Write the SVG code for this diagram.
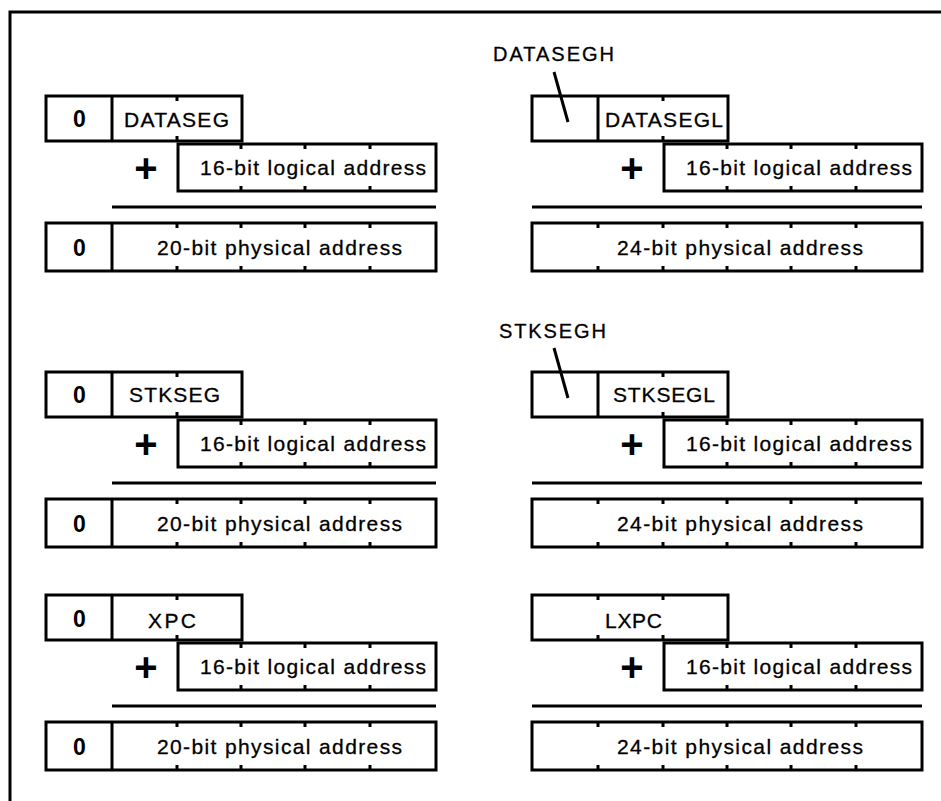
<svg xmlns="http://www.w3.org/2000/svg" width="941" height="801" viewBox="0 0 941 801">
<style>
.bx{fill:none;stroke:#000;stroke-width:3;stroke-linejoin:miter}
.ln{stroke:#000;stroke-width:3;fill:none}
.t{font-family:"Liberation Sans",Arial,sans-serif;font-size:21px;fill:#000;stroke:#000;stroke-width:0.3}
.lb{font-family:"Liberation Sans",Arial,sans-serif;font-size:20px;fill:#000;stroke:#000;stroke-width:0.3}
.z{font-family:"Liberation Sans",Arial,sans-serif;font-size:23px;font-weight:bold;fill:#000;text-anchor:middle}
.p{font-family:"Liberation Sans",Arial,sans-serif;font-size:40px;font-weight:bold;fill:#000;text-anchor:middle}
</style>
<defs>
<g id="logical">
<rect class="bx" x="178" y="144" width="258" height="47"/>
<path class="ln" d="M241,144v5M305,144v5M370,144v5M241,191v-5M305,191v-5M370,191v-5"/>
<text class="t" x="200" y="175" textLength="226" lengthAdjust="spacing">16-bit logical address</text>
<text class="p" x="146" y="182">+</text>
</g>
<g id="phys">
<rect class="bx" x="46" y="223" width="390" height="48"/>
<path class="ln" d="M177,223v5M241,223v5M305,223v5M370,223v5M177,271v-5M241,271v-5M305,271v-5M370,271v-5"/>
</g>
</defs>
<path class="ln" d="M10,801V12H941" stroke-width="3.5"/>

<g id="left-dataseg">
<rect class="bx" x="46" y="96" width="196" height="45"/>
<path class="ln" d="M112,96v45M177,96v5M177,141v-5"/>
<text class="z" x="79.5" y="127">0</text>
<text class="t" x="124" y="126.5" textLength="105" lengthAdjust="spacing">DATASEG</text>
<use href="#logical"/>
<use href="#phys"/>
<path class="ln" d="M112,223v48"/>
<text class="z" x="79.5" y="256">0</text>
<text class="t" x="157" y="255" textLength="245" lengthAdjust="spacing">20-bit physical address</text>
</g>

<g id="right-dataseg">
<rect class="bx" x="532" y="96" width="196" height="45"/>
<path class="ln" d="M598,96v45M663,96v5M663,141v-5"/>
<text class="t" x="605" y="126.5" textLength="118" lengthAdjust="spacing">DATASEGL</text>
<use href="#logical" transform="translate(486,0)"/>
<use href="#phys" transform="translate(486,0)"/>
<path class="ln" d="M598,223v5M598,271v-5"/>
<text class="t" x="617" y="255" textLength="246" lengthAdjust="spacing">24-bit physical address</text>
<text class="lb" x="493" y="61" textLength="121" lengthAdjust="spacing">DATASEGH</text>
</g>

<g id="left-stkseg">
<rect class="bx" x="46" y="372" width="196" height="45"/>
<path class="ln" d="M112,372v45M177,372v5M177,417v-5"/>
<text class="z" x="79.5" y="403">0</text>
<text class="t" x="129" y="402" textLength="91" lengthAdjust="spacing">STKSEG</text>
<use href="#logical" transform="translate(0,276)"/>
<use href="#phys" transform="translate(0,276)"/>
<path class="ln" d="M112,499v48"/>
<text class="z" x="79.5" y="532">0</text>
<text class="t" x="157" y="531" textLength="245" lengthAdjust="spacing">20-bit physical address</text>
</g>

<g id="right-stkseg">
<rect class="bx" x="532" y="372" width="196" height="45"/>
<path class="ln" d="M598,372v45M663,372v5M663,417v-5"/>
<text class="t" x="613" y="402" textLength="102" lengthAdjust="spacing">STKSEGL</text>
<use href="#logical" transform="translate(486,276)"/>
<use href="#phys" transform="translate(486,276)"/>
<path class="ln" d="M598,499v5M598,547v-5"/>
<text class="t" x="617" y="531" textLength="246" lengthAdjust="spacing">24-bit physical address</text>
<text class="lb" x="499" y="338" textLength="107" lengthAdjust="spacing">STKSEGH</text>
</g>

<g id="left-xpc">
<rect class="bx" x="46" y="595" width="196" height="45"/>
<path class="ln" d="M112,595v45M177,595v5M177,640v-5"/>
<text class="z" x="79.5" y="627">0</text>
<text class="t" x="148" y="628" textLength="48" lengthAdjust="spacing">XPC</text>
<use href="#logical" transform="translate(0,499)"/>
<use href="#phys" transform="translate(0,499)"/>
<path class="ln" d="M112,722v48"/>
<text class="z" x="79.5" y="755">0</text>
<text class="t" x="157" y="754" textLength="245" lengthAdjust="spacing">20-bit physical address</text>
</g>

<g id="right-lxpc">
<rect class="bx" x="532" y="595" width="196" height="45"/>
<path class="ln" d="M598,595v5M598,640v-5M663,595v5M663,640v-5"/>
<text class="t" x="605" y="628" textLength="57" lengthAdjust="spacing">LXPC</text>
<use href="#logical" transform="translate(486,499)"/>
<use href="#phys" transform="translate(486,499)"/>
<path class="ln" d="M598,722v5M598,770v-5"/>
<text class="t" x="617" y="754" textLength="246" lengthAdjust="spacing">24-bit physical address</text>
</g>

<g id="connectors">
<line class="ln" x1="112" y1="207" x2="436" y2="207"/>
<line class="ln" x1="532" y1="207" x2="922" y2="207"/>
<line class="ln" x1="112" y1="483" x2="436" y2="483"/>
<line class="ln" x1="532" y1="483" x2="922" y2="483"/>
<line class="ln" x1="112" y1="706" x2="436" y2="706"/>
<line class="ln" x1="532" y1="706" x2="922" y2="706"/>
<line class="ln" x1="554" y1="72" x2="568" y2="122"/>
<line class="ln" x1="554" y1="348" x2="568" y2="398"/>
</g>
</svg>
